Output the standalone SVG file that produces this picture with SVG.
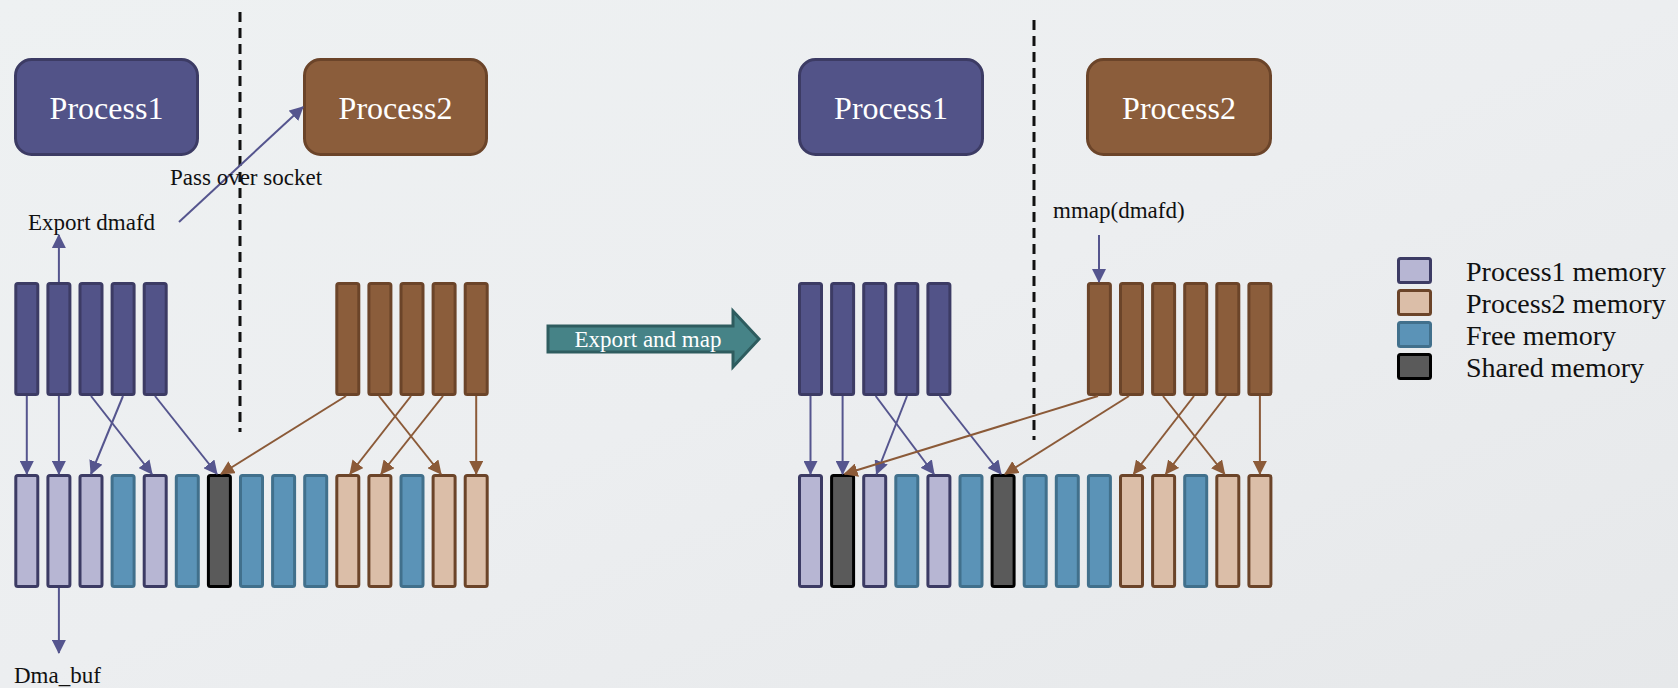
<svg xmlns="http://www.w3.org/2000/svg" width="1678" height="688" viewBox="0 0 1678 688">
<defs>
<linearGradient id="bg" x1="0" y1="0" x2="1" y2="1">
<stop offset="0" stop-color="#EEF1F2"/>
<stop offset="0.5" stop-color="#ECEEF0"/>
<stop offset="1" stop-color="#E6E8EA"/>
</linearGradient>
<marker id="ap" viewBox="0 0 14 14" refX="13" refY="7" markerWidth="14" markerHeight="14" markerUnits="userSpaceOnUse" orient="auto"><path d="M0,0 L14,7 L0,14 z" fill="#55558E"/></marker>
<marker id="ab" viewBox="0 0 14 14" refX="13" refY="7" markerWidth="14" markerHeight="14" markerUnits="userSpaceOnUse" orient="auto"><path d="M0,0 L14,7 L0,14 z" fill="#8B5A38"/></marker>
<style>
.t{font-family:"Liberation Serif","Times New Roman",serif;fill:#111;font-size:23px}
.pt{font-family:"Liberation Serif","Times New Roman",serif;fill:#fff;font-size:32px;text-anchor:middle}
.lg{font-family:"Liberation Serif","Times New Roman",serif;fill:#111;font-size:28px}
.p1{fill:#525388;stroke:#3C3B64;stroke-width:3}
.p2{fill:#8B5D3B;stroke:#6B4429;stroke-width:3}
.lav{fill:#B7B6D3;stroke:#3C3B64;stroke-width:3}
.tan{fill:#DBBEA8;stroke:#6B4429;stroke-width:3}
.fr{fill:#5B93B7;stroke:#41708C;stroke-width:3}
.sh{fill:#5A5A5A;stroke:#000;stroke-width:3}
.dash{stroke:#111;stroke-width:3;stroke-dasharray:10 6;fill:none}
.cp{stroke:#55558E;stroke-width:2;fill:none;marker-end:url(#ap)}
.cb{stroke:#8B5A38;stroke-width:2;fill:none;marker-end:url(#ab)}
</style>
</defs>
<rect width="1678" height="688" fill="url(#bg)"/>

<!-- dashed separators -->
<line class="dash" x1="240" y1="12" x2="240" y2="432"/>
<line class="dash" x1="1034" y1="20" x2="1034" y2="440"/>

<!-- process boxes -->
<g id="L_Process1"><rect class="p1" x="15.5" y="59.5" width="182" height="95" rx="16"/><text class="pt" x="106.5" y="119">Process1</text></g>
<g id="L_Process2"><rect class="p2" x="304.5" y="59.5" width="182" height="95" rx="16"/><text class="pt" x="395.5" y="119">Process2</text></g>
<g id="R_Process1"><rect class="p1" x="799.5" y="59.5" width="183" height="95" rx="16"/><text class="pt" x="891" y="119">Process1</text></g>
<g id="R_Process2"><rect class="p2" x="1087.5" y="59.5" width="183" height="95" rx="16"/><text class="pt" x="1179" y="119">Process2</text></g>

<!-- left top bars -->
<g id="L_P1_pages">
<rect class="p1" x="15.8" y="283.5" width="22" height="111" rx="2"/>
<rect class="p1" x="47.9" y="283.5" width="22" height="111" rx="2"/>
<rect class="p1" x="80" y="283.5" width="22" height="111" rx="2"/>
<rect class="p1" x="112.1" y="283.5" width="22" height="111" rx="2"/>
<rect class="p1" x="144.2" y="283.5" width="22" height="111" rx="2"/>
</g>
<g id="L_P2_pages">
<rect class="p2" x="336.8" y="283.5" width="22" height="111" rx="2"/>
<rect class="p2" x="368.9" y="283.5" width="22" height="111" rx="2"/>
<rect class="p2" x="401" y="283.5" width="22" height="111" rx="2"/>
<rect class="p2" x="433.1" y="283.5" width="22" height="111" rx="2"/>
<rect class="p2" x="465.2" y="283.5" width="22" height="111" rx="2"/>
</g>
<!-- left physical memory -->
<g id="L_memory">
<rect class="lav" x="15.8" y="475.5" width="22" height="111" rx="2"/>
<rect class="lav" x="47.9" y="475.5" width="22" height="111" rx="2"/>
<rect class="lav" x="80" y="475.5" width="22" height="111" rx="2"/>
<rect class="fr" x="112.1" y="475.5" width="22" height="111" rx="2"/>
<rect class="lav" x="144.2" y="475.5" width="22" height="111" rx="2"/>
<rect class="fr" x="176.3" y="475.5" width="22" height="111" rx="2"/>
<rect class="sh" x="208.4" y="475.5" width="22" height="111" rx="2"/>
<rect class="fr" x="240.5" y="475.5" width="22" height="111" rx="2"/>
<rect class="fr" x="272.6" y="475.5" width="22" height="111" rx="2"/>
<rect class="fr" x="304.7" y="475.5" width="22" height="111" rx="2"/>
<rect class="tan" x="336.8" y="475.5" width="22" height="111" rx="2"/>
<rect class="tan" x="368.9" y="475.5" width="22" height="111" rx="2"/>
<rect class="fr" x="401" y="475.5" width="22" height="111" rx="2"/>
<rect class="tan" x="433.1" y="475.5" width="22" height="111" rx="2"/>
<rect class="tan" x="465.2" y="475.5" width="22" height="111" rx="2"/>
</g>

<!-- right top bars -->
<g id="R_P1_pages">
<rect class="p1" x="799.5" y="283.5" width="22" height="111" rx="2"/>
<rect class="p1" x="831.6" y="283.5" width="22" height="111" rx="2"/>
<rect class="p1" x="863.7" y="283.5" width="22" height="111" rx="2"/>
<rect class="p1" x="895.8" y="283.5" width="22" height="111" rx="2"/>
<rect class="p1" x="927.9" y="283.5" width="22" height="111" rx="2"/>
</g>
<g id="R_P2_pages">
<rect class="p2" x="1088.4" y="283.5" width="22" height="111" rx="2"/>
<rect class="p2" x="1120.5" y="283.5" width="22" height="111" rx="2"/>
<rect class="p2" x="1152.6" y="283.5" width="22" height="111" rx="2"/>
<rect class="p2" x="1184.7" y="283.5" width="22" height="111" rx="2"/>
<rect class="p2" x="1216.8" y="283.5" width="22" height="111" rx="2"/>
<rect class="p2" x="1248.9" y="283.5" width="22" height="111" rx="2"/>
</g>
<g id="R_memory">
<rect class="lav" x="799.5" y="475.5" width="22" height="111" rx="2"/>
<rect class="sh" x="831.6" y="475.5" width="22" height="111" rx="2"/>
<rect class="lav" x="863.7" y="475.5" width="22" height="111" rx="2"/>
<rect class="fr" x="895.8" y="475.5" width="22" height="111" rx="2"/>
<rect class="lav" x="927.9" y="475.5" width="22" height="111" rx="2"/>
<rect class="fr" x="960" y="475.5" width="22" height="111" rx="2"/>
<rect class="sh" x="992.1" y="475.5" width="22" height="111" rx="2"/>
<rect class="fr" x="1024.2" y="475.5" width="22" height="111" rx="2"/>
<rect class="fr" x="1056.3" y="475.5" width="22" height="111" rx="2"/>
<rect class="fr" x="1088.4" y="475.5" width="22" height="111" rx="2"/>
<rect class="tan" x="1120.5" y="475.5" width="22" height="111" rx="2"/>
<rect class="tan" x="1152.6" y="475.5" width="22" height="111" rx="2"/>
<rect class="fr" x="1184.7" y="475.5" width="22" height="111" rx="2"/>
<rect class="tan" x="1216.8" y="475.5" width="22" height="111" rx="2"/>
<rect class="tan" x="1248.9" y="475.5" width="22" height="111" rx="2"/>
</g>

<!-- Export and map arrow -->
<g id="export_and_map">
<path d="M548,326 L733,326 L733,311 L759,339 L733,367 L733,352 L548,352 z" fill="#468387" stroke="#2E5C5F" stroke-width="3" stroke-linejoin="miter"/>
<text x="648" y="347" style="font-family:'Liberation Serif','Times New Roman',serif;font-size:23px;fill:#fff;text-anchor:middle">Export and map</text>
</g>

<!-- connectors -->
<g id="connectors">
<line class="cp" x1="26.8" y1="396" x2="26.8" y2="474"/>
<line class="cp" x1="58.9" y1="396" x2="58.9" y2="474"/>
<line class="cp" x1="91" y1="396" x2="152" y2="474"/>
<line class="cp" x1="123" y1="396" x2="91" y2="474"/>
<line class="cp" x1="155" y1="396" x2="217" y2="474"/>
<line class="cb" x1="346" y1="396" x2="221" y2="474"/>
<line class="cb" x1="379" y1="396" x2="441" y2="474"/>
<line class="cb" x1="411" y1="396" x2="350" y2="474"/>
<line class="cb" x1="443" y1="396" x2="381" y2="474"/>
<line class="cb" x1="476.2" y1="396" x2="476.2" y2="474"/>
<line class="cp" x1="58.9" y1="282" x2="58.9" y2="235"/>
<line class="cp" x1="58.9" y1="588" x2="58.9" y2="653"/>
<line class="cp" x1="179" y1="222" x2="303" y2="107"/>

<line class="cp" x1="810.5" y1="396" x2="810.5" y2="474"/>
<line class="cp" x1="842.6" y1="396" x2="842.6" y2="474"/>
<line class="cp" x1="875.7" y1="396" x2="934" y2="474"/>
<line class="cp" x1="907" y1="396" x2="876.5" y2="474"/>
<line class="cp" x1="939.6" y1="396" x2="1001" y2="474"/>
<line class="cb" x1="1098" y1="396" x2="844.5" y2="474"/>
<line class="cb" x1="1129" y1="396" x2="1005" y2="474"/>
<line class="cb" x1="1163" y1="396" x2="1224.6" y2="474"/>
<line class="cb" x1="1194" y1="396" x2="1133.6" y2="474"/>
<line class="cb" x1="1226" y1="396" x2="1165.7" y2="474"/>
<line class="cb" x1="1259.9" y1="396" x2="1259.9" y2="474"/>
<line class="cp" x1="1099" y1="235" x2="1099" y2="282"/>
</g>

<!-- labels -->
<g id="labels">
<text class="t" x="170" y="185">Pass over socket</text>
<text class="t" x="28" y="230">Export dmafd</text>
<text class="t" x="14" y="683">Dma_buf</text>
<text class="t" x="1053" y="218">mmap(dmafd)</text>
</g>

<!-- legend -->
<g id="legend">
<rect class="lav" x="1398.5" y="258.5" width="32" height="24" rx="2"/>
<rect class="tan" x="1398.5" y="290.5" width="32" height="24" rx="2"/>
<rect class="fr" x="1398.5" y="322.5" width="32" height="24" rx="2"/>
<rect class="sh" x="1398.5" y="354.5" width="32" height="24" rx="2"/>
<text class="lg" x="1466" y="281">Process1 memory</text>
<text class="lg" x="1466" y="313">Process2 memory</text>
<text class="lg" x="1466" y="345">Free memory</text>
<text class="lg" x="1466" y="377">Shared memory</text>
</g>
</svg>
